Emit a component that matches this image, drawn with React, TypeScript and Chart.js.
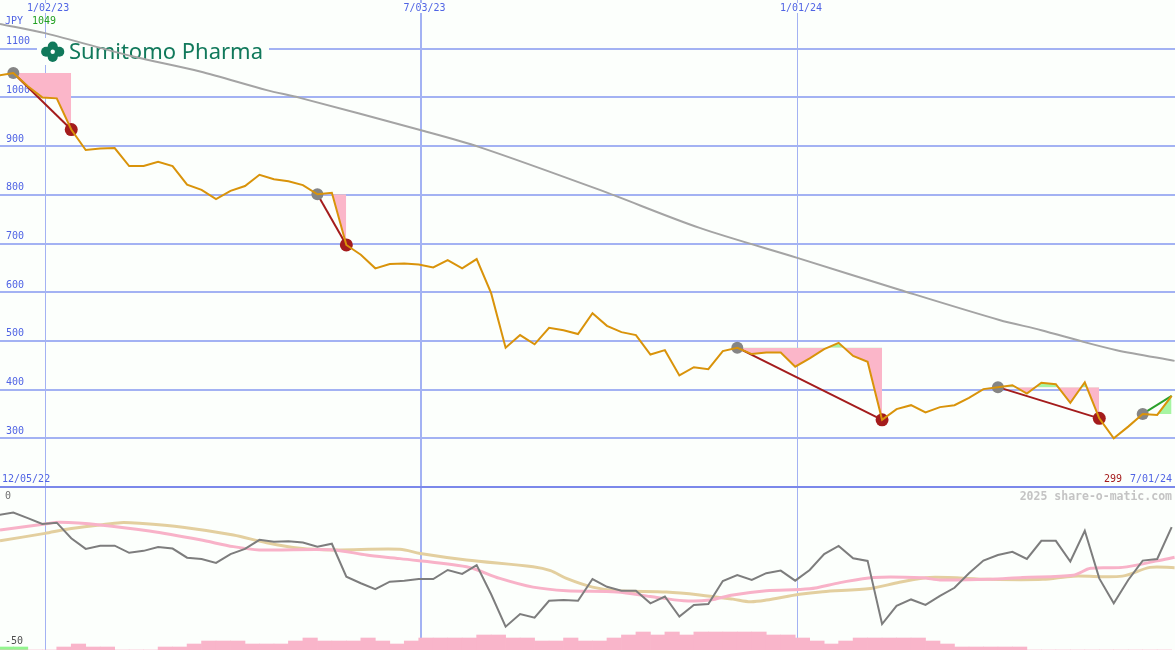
import React, { useEffect, useRef } from "react";
import { Chart, registerables } from "chart.js";
Chart.register(...registerables);

// ---- x axis: weekly index (0 = first swing high) ----
const FIRST_WEEK = -1;
const X_MIN = -0.92;
const X_MAX = 80.23;
const dateTickWeeks = [2.19, 28.19, 54.19];
const dateTickLabels = ["1/02/23", "7/03/23", "1/01/24"];
const startDateLabel = "12/05/22";
const endDateLabel = "7/01/24";

// ---- price panel ----
const priceTicks = [300, 400, 500, 600, 700, 800, 900, 1000, 1100];
const price = [
  1045, 1050, 1023, 1000, 998, 934, 892, 895, 896, 859,
  859, 868, 859, 821, 810, 791, 808, 818, 841, 832,
  828, 820, 801, 804, 697, 677, 649, 658, 659, 657,
  651, 666, 649, 668, 598, 486, 512, 493, 527, 522,
  514, 557, 531, 518, 512, 472, 481, 429, 446, 442,
  479, 486, 473, 476, 476, 447, 464, 483, 496, 469,
  457, 338, 360, 368, 353, 364, 368, 383, 401, 405,
  409, 392, 414, 411, 373, 415, 341, 300, 324, 350,
  348, 387,
];
const longMaWeeks = [-0.92, 2.19, 8.27, 12.9, 17.5, 19.8, 28.1, 32.2, 40.5, 47.4, 54.2, 61.2, 68.1, 71.0, 73.9, 76.2, 80.2];
const longMaValues = [1151, 1132, 1084, 1053, 1015, 999, 933, 898, 810, 732, 670, 605, 543, 522, 498, 481, 459];
const swingHighWeeks = [0, 21, 50, 68, 78];
const swingLowWeeks = [4, 23, 60, 75];
const lastWeek = 80;

// ---- lower panel ----
const osc = [
  -8.3, -7.6, -9.3, -11.1, -10.7, -15.5, -18.8, -17.8, -17.8, -20.0,
  -19.4, -18.2, -18.7, -21.5, -21.9, -23.1, -20.4, -18.8, -16.0, -16.6,
  -16.4, -16.8, -18.1, -17.2, -27.4, -29.4, -31.2, -28.9, -28.6, -28.1,
  -28.1, -25.3, -26.5, -23.8, -32.8, -42.8, -38.9, -40.0, -34.8, -34.6,
  -34.8, -28.1, -30.5, -31.7, -31.7, -35.6, -33.5, -39.7, -36.1, -35.8,
  -28.7, -26.9, -28.4, -26.3, -25.5, -28.6, -25.3, -20.4, -17.9, -21.7,
  -22.5, -42.0, -36.4, -34.4, -36.1, -33.3, -30.8, -26.3, -22.4, -20.7,
  -19.7, -21.9, -16.3, -16.3, -22.7, -13.2, -27.9, -35.6, -28.4, -22.4,
  -21.9, -12.1,
];
const oscFastWeeks = [-0.92, 2.19, 3.2, 6.0, 9.4, 12.9, 15.2, 17.0, 22.1, 24.4, 26.7, 31.3, 33.6, 35.9, 38.2, 41.7, 44.0, 46.3, 48.1, 49.7, 52.0, 55.0, 57.1, 59.4, 62.8, 64.0, 67.4, 69.7, 73.2, 74.4, 76.6, 79.0, 80.2];
const oscFastValues = [-13.0, -11.1, -10.6, -11.4, -13.3, -16.0, -18.1, -19.1, -19.1, -20.7, -21.8, -24.3, -27.9, -30.6, -31.7, -32.1, -33.5, -34.8, -34.6, -33.0, -31.7, -31.1, -29.2, -27.6, -27.7, -28.4, -28.2, -27.6, -26.9, -24.8, -24.5, -22.5, -21.4];
const oscSlowWeeks = [-0.92, 2.19, 3.7, 6.0, 7.4, 8.7, 11.7, 15.2, 17.5, 19.8, 22.1, 26.7, 28.1, 31.3, 35.9, 37.1, 38.2, 40.0, 41.7, 45.1, 47.4, 49.7, 50.9, 52.0, 54.3, 55.9, 59.2, 61.2, 63.3, 67.4, 71.1, 73.2, 76.6, 78.5, 80.2];
const oscSlowValues = [-16.3, -14.0, -12.7, -11.4, -10.7, -10.9, -12.1, -14.5, -16.9, -18.6, -19.1, -18.9, -20.2, -22.2, -24.3, -25.5, -27.9, -30.6, -31.7, -32.1, -33.0, -34.3, -35.1, -34.6, -32.8, -32.0, -31.0, -29.1, -27.6, -28.2, -28.2, -27.2, -27.2, -24.5, -24.6];
const pinkBarLevels = [
  0, 0, 0, 0, 1, 2, 1, 1, 0, 0,
  0, 1, 1, 2, 3, 3, 3, 2, 2, 2,
  3, 4, 3, 3, 3, 4, 3, 2, 3, 4,
  4, 4, 4, 5, 5, 4, 4, 3, 3, 4,
  3, 3, 4, 5, 6, 5, 6, 5, 6, 6,
  6, 6, 6, 5, 5, 4, 3, 2, 3, 4,
  4, 4, 4, 4, 3, 2, 1, 1, 1, 1,
  1, 0, 0, 0, 0, 0, 0, 0, 0, 0, 0,
];
const greenBarLevels = [1, 1];

// ---- colours ----
const BG = "#fcfffc";
const GRID_BLUE = "#a3b2f3";
const SEP_BLUE = "#7b88ea";
const TEXT_BLUE = "#5064e4";
const ORANGE = "#d9930a";
const GRAY_MA = "#a4a4a4";
const DARK_RED = "#a41c1c";
const GRAY_DOT = "#858585";
const PINK_FILL = "#fbb6c9";
const GREEN_FILL = "#a6f5a2";
const GREEN_LINE = "#2aa02a";
const LOGO_GREEN = "#11795b";

const priceAt = (w: number) => price[w - FIRST_WEEK];

const logoPlugin = {
  id: "logo",
  beforeDatasetsDraw(chart: any) {
    const ctx = chart.ctx;
    ctx.save();
    ctx.fillStyle = BG;
    ctx.fillRect(37, 38, 232, 27);
    ctx.fillStyle = LOGO_GREEN;
    const cx = 52.7, cy = 51.8;
    const petals = [[0, -5.2], [-6.6, 0], [6.6, 0], [0, 5.2]];
    petals.forEach(([dx, dy]) => {
      ctx.beginPath();
      ctx.arc(cx + dx, cy + dy, 5.0, 0, Math.PI * 2);
      ctx.fill();
    });
    ctx.beginPath();
    ctx.moveTo(cx, cy - 9);
    ctx.lineTo(cx + 11, cy);
    ctx.lineTo(cx, cy + 9);
    ctx.lineTo(cx - 11, cy);
    ctx.closePath();
    ctx.fill();
    ctx.fillStyle = BG;
    ctx.beginPath();
    ctx.arc(cx, cy, 2.2, 0, Math.PI * 2);
    ctx.fill();
    ctx.fillStyle = LOGO_GREEN;
    ctx.font = '22px "Noto Sans"';
    ctx.textBaseline = "alphabetic";
    ctx.fillText("Sumitomo Pharma", 69, 59);
    ctx.restore();
  },
};

const xAxis = () => ({
  type: "linear" as const,
  min: X_MIN,
  max: X_MAX,
  offset: false,
  afterBuildTicks: (scale: any) => {
    scale.ticks = dateTickWeeks.map((v) => ({ value: v }));
  },
  afterFit: (scale: any) => {
    scale.height = 0;
    scale.paddingLeft = 0;
    scale.paddingRight = 0;
  },
  grid: {
    color: GRID_BLUE,
    lineWidth: (c: any) => (c.index === 1 ? 2 : 1),
    drawTicks: false,
    offset: false,
  },
  border: { display: false },
  ticks: { display: false },
});

export default function App() {
  const topRef = useRef<HTMLCanvasElement>(null);
  const botRef = useRef<HTMLCanvasElement>(null);

  useEffect(() => {
    document.body.style.margin = "0";
    document.body.style.background = BG;

    // ---------- top chart ----------
    const ds: any[] = [];
    ds.push({
      data: price.map((v, i) => ({ x: i + FIRST_WEEK, y: v })),
      borderColor: ORANGE, borderWidth: 2, pointRadius: 0, fill: false, tension: 0,
    });
    ds.push({
      data: swingLowWeeks.map((w) => ({ x: w, y: priceAt(w) })),
      showLine: false, pointRadius: 6.5, pointBackgroundColor: DARK_RED, pointBorderWidth: 0, fill: false,
    });
    ds.push({
      data: swingHighWeeks.map((w) => ({ x: w, y: priceAt(w) })),
      showLine: false, pointRadius: 6, pointBackgroundColor: GRAY_DOT, pointBorderWidth: 0, fill: false,
    });
    const episodes = swingHighWeeks.map((h, k) => [h, k < swingLowWeeks.length ? swingLowWeeks[k] : lastWeek]);
    episodes.forEach(([a, b], k) => {
      ds.push({
        data: [{ x: a, y: priceAt(a) }, { x: b, y: priceAt(b) }],
        borderColor: k < swingLowWeeks.length ? DARK_RED : GREEN_LINE,
        borderWidth: 2, pointRadius: 0, fill: false,
      });
    });
    ds.push({
      data: longMaWeeks.map((w, i) => ({ x: w, y: longMaValues[i] })),
      borderColor: GRAY_MA, borderWidth: 2, pointRadius: 0, fill: false, tension: 0.3,
    });
    episodes.forEach(([a, b]) => {
      const weeks: number[] = [];
      for (let w = a; w <= b; w++) weeks.push(w);
      const level = priceAt(a);
      const levelIndex = ds.length + 1;
      ds.push({
        data: weeks.map((w) => ({ x: w, y: priceAt(w) })),
        borderColor: "rgba(0,0,0,0)", borderWidth: 1, pointRadius: 0,
        fill: { target: levelIndex, above: GREEN_FILL, below: PINK_FILL },
      });
      ds.push({
        data: weeks.map((w) => ({ x: w, y: level })),
        borderColor: "rgba(0,0,0,0)", borderWidth: 1, pointRadius: 0, fill: false,
      });
    });

    const top = new Chart(topRef.current!, {
      type: "line",
      data: { datasets: ds },
      options: {
        animation: false,
        responsive: false,
        layout: { padding: 0, autoPadding: false },
        plugins: { legend: { display: false }, tooltip: { enabled: false } },
        scales: {
          x: xAxis(),
          y: {
            type: "linear",
            min: 200,
            max: 1200,
            afterBuildTicks: (scale: any) => {
              scale.ticks = priceTicks.map((v) => ({ value: v }));
            },
            afterFit: (scale: any) => {
              scale.width = 0;
              scale.paddingTop = 0;
              scale.paddingBottom = 0;
            },
            grid: { color: GRID_BLUE, lineWidth: 2, drawTicks: false },
            border: { display: false },
            ticks: {
              mirror: true,
              padding: 6,
              labelOffset: -7,
              color: TEXT_BLUE,
              font: { family: "DejaVu Sans Mono", size: 10 },
              callback: (v: any) => String(v),
            },
          },
        },
      } as any,
      plugins: [logoPlugin],
    });

    // ---------- bottom chart ----------
    const bot = new Chart(botRef.current!, {
      type: "line",
      data: {
        datasets: [
          {
            data: osc.map((v, i) => ({ x: i + FIRST_WEEK, y: v })),
            borderColor: "#7d7d7d", borderWidth: 2, pointRadius: 0, fill: false,
          },
          {
            data: oscFastWeeks.map((w, i) => ({ x: w, y: oscFastValues[i] })),
            borderColor: "#f8b2c8", borderWidth: 3, pointRadius: 0, fill: false, tension: 0.3,
          },
          {
            data: oscSlowWeeks.map((w, i) => ({ x: w, y: oscSlowValues[i] })),
            borderColor: "#e3cf9f", borderWidth: 3, pointRadius: 0, fill: false, tension: 0.3,
          },
          {
            type: "bar",
            yAxisID: "yb",
            data: pinkBarLevels.map((v, i) => ({ x: i + FIRST_WEEK + 0.5, y: v })),
            backgroundColor: "#f9b5ca",
            borderWidth: 0,
            barPercentage: 1,
            categoryPercentage: 1,
            grouped: false,
          },
          {
            type: "bar",
            yAxisID: "yb",
            data: greenBarLevels.map((v, i) => ({ x: i + FIRST_WEEK + 0.5, y: v })),
            backgroundColor: "#93f58f",
            borderWidth: 0,
            barPercentage: 1,
            categoryPercentage: 1,
            grouped: false,
          },
        ] as any,
      },
      options: {
        animation: false,
        responsive: false,
        layout: { padding: 0, autoPadding: false },
        plugins: { legend: { display: false }, tooltip: { enabled: false } },
        scales: {
          x: xAxis(),
          y: { type: "linear", min: -50, max: 0, display: false },
          yb: { type: "linear", min: 0, max: 54, display: false },
        },
      } as any,
    });

    return () => {
      top.destroy();
      bot.destroy();
    };
  }, []);

  const mono: React.CSSProperties = {
    position: "absolute",
    fontFamily: "DejaVu Sans Mono",
    fontSize: 10,
    lineHeight: "10px",
    whiteSpace: "nowrap",
  };
  const datePos = (w: number) => ((w - X_MIN) / (X_MAX - X_MIN)) * 1175;

  return (
    <div style={{ position: "absolute", left: 0, top: 0, width: 1175, height: 650, background: BG, overflow: "hidden" }}>
      <canvas ref={topRef} width={1175} height={487} style={{ position: "absolute", left: 0, top: 0 }} />
      <div style={{ position: "absolute", left: 0, top: 486, width: 1175, height: 2, background: SEP_BLUE }} />
      <canvas ref={botRef} width={1175} height={162} style={{ position: "absolute", left: 0, top: 488 }} />
      {dateTickLabels.map((t, i) => (
        <div key={t} style={{ ...mono, top: 3, left: datePos(dateTickWeeks[i]) - 18, color: TEXT_BLUE, background: BG }}>
          {t}
        </div>
      ))}
      <div style={{ ...mono, top: 16, left: 5, color: TEXT_BLUE }}>JPY</div>
      <div style={{ ...mono, top: 16, left: 32, color: "#22a022" }}>1049</div>
      <div style={{ ...mono, top: 474, left: 2, color: TEXT_BLUE }}>{startDateLabel}</div>
      <div style={{ ...mono, top: 474, left: 1104, color: DARK_RED }}>299</div>
      <div style={{ ...mono, top: 474, left: 1130, color: TEXT_BLUE }}>{endDateLabel}</div>
      <div style={{ ...mono, top: 491, left: 5, color: "#707070" }}>0</div>
      <div style={{ ...mono, top: 636, left: 5, color: "#505050" }}>-50</div>
      <div style={{ ...mono, top: 490, right: 3, fontSize: 11.5, fontWeight: "bold", color: "#c4c4c4", lineHeight: "12px" }}>
        2025 share-o-matic.com
      </div>
    </div>
  );
}
